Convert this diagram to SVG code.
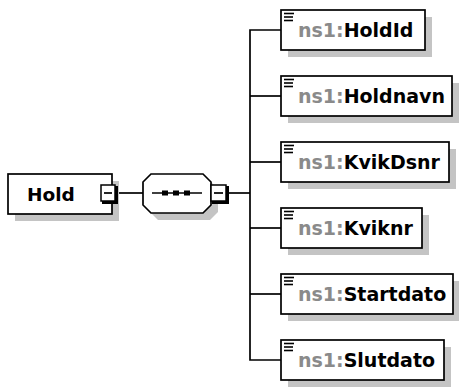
<svg xmlns="http://www.w3.org/2000/svg" width="459" height="388" viewBox="0 0 459 388">
<style>
.shadow{fill:#c4c4c4;stroke:none}
.box{fill:#fff;stroke:#000;stroke-width:1.7}
.conn{fill:none;stroke:#000;stroke-width:1.7}
.lbl{font-family:"DejaVu Sans","Verdana",sans-serif;font-weight:bold;font-size:19px;fill:#000}
.pfx{fill:#8a8a8a}
.icon{stroke:#000;stroke-width:1.6}
.mbox{fill:#fff;stroke:#000;stroke-width:1.5}
.mshd{fill:none;stroke:#000;stroke-width:3}
</style>
<defs>
<g id="doc">
<line class="icon" x1="284" y1="3.5" x2="294" y2="3.5"/>
<line class="icon" x1="284" y1="7" x2="293" y2="7"/>
<line class="icon" x1="284" y1="10.5" x2="293" y2="10.5"/>
</g>
</defs>

<g id="connectors">
<line class="conn" x1="117" y1="193" x2="143" y2="193"/>
<line class="conn" x1="229" y1="193" x2="250" y2="193"/>
<polyline class="conn" points="281,30 250,30 250,360 281,360"/>
<line class="conn" x1="250" y1="96" x2="281" y2="96"/>
<line class="conn" x1="250" y1="162" x2="281" y2="162"/>
<line class="conn" x1="250" y1="228" x2="281" y2="228"/>
<line class="conn" x1="250" y1="294" x2="281" y2="294"/>
</g>

<g id="node-Hold">
<rect class="shadow" x="15" y="181" width="104" height="40"/>
<rect class="box" x="8" y="174" width="104" height="40"/>
<text class="lbl" x="27" y="201" style="font-size:18.5px">Hold</text>
<polyline class="mshd" points="116.5,186 116.5,202.5 102,202.5"/>
<rect class="mbox" x="101" y="185" width="14" height="16"/>
<line class="conn" x1="104" y1="193" x2="112" y2="193"/>
</g>

<g id="node-sequence">
<polygon class="shadow" points="158,181 210,181 218,189 218,212 210,220 158,220 150,212 150,189"/>
<polygon class="box" points="151,174 203,174 211,182 211,205 203,213 151,213 143,205 143,182"/>
<line class="conn" x1="152" y1="193" x2="202" y2="193"/>
<rect x="162" y="190.5" width="6" height="5" fill="#000"/>
<rect x="173" y="190.5" width="6" height="5" fill="#000"/>
<rect x="184" y="190.5" width="6" height="5" fill="#000"/>
<polyline class="mshd" points="227.5,186 227.5,202.5 212,202.5"/>
<rect class="mbox" x="211" y="185" width="15" height="16"/>
<line class="conn" x1="214" y1="193" x2="223" y2="193"/>
</g>

<g id="node-HoldId">
<rect class="shadow" x="288" y="17" width="144" height="40"/>
<rect class="box" x="281" y="10" width="144" height="40"/>
<use href="#doc" y="10"/>
<text class="lbl" x="298" y="37"><tspan class="pfx">ns1:</tspan>HoldId</text>
</g>

<g id="node-Holdnavn">
<rect class="shadow" x="288" y="83" width="171" height="40"/>
<rect class="box" x="281" y="76" width="171" height="40"/>
<use href="#doc" y="76"/>
<text class="lbl" x="298" y="103"><tspan class="pfx">ns1:</tspan>Holdnavn</text>
</g>

<g id="node-KvikDsnr">
<rect class="shadow" x="288" y="149" width="168" height="40"/>
<rect class="box" x="281" y="142" width="168" height="40"/>
<use href="#doc" y="142"/>
<text class="lbl" x="298" y="169"><tspan class="pfx">ns1:</tspan>KvikDsnr</text>
</g>

<g id="node-Kviknr">
<rect class="shadow" x="288" y="215" width="141" height="40"/>
<rect class="box" x="281" y="208" width="141" height="40"/>
<use href="#doc" y="208"/>
<text class="lbl" x="298" y="235"><tspan class="pfx">ns1:</tspan>Kviknr</text>
</g>

<g id="node-Startdato">
<rect class="shadow" x="288" y="281" width="172" height="40"/>
<rect class="box" x="281" y="274" width="172" height="40"/>
<use href="#doc" y="274"/>
<text class="lbl" x="298" y="301"><tspan class="pfx">ns1:</tspan>Startdato</text>
</g>

<g id="node-Slutdato">
<rect class="shadow" x="288" y="347" width="163" height="40"/>
<rect class="box" x="281" y="340" width="163" height="40"/>
<use href="#doc" y="340"/>
<text class="lbl" x="298" y="367"><tspan class="pfx">ns1:</tspan>Slutdato</text>
</g>
</svg>
